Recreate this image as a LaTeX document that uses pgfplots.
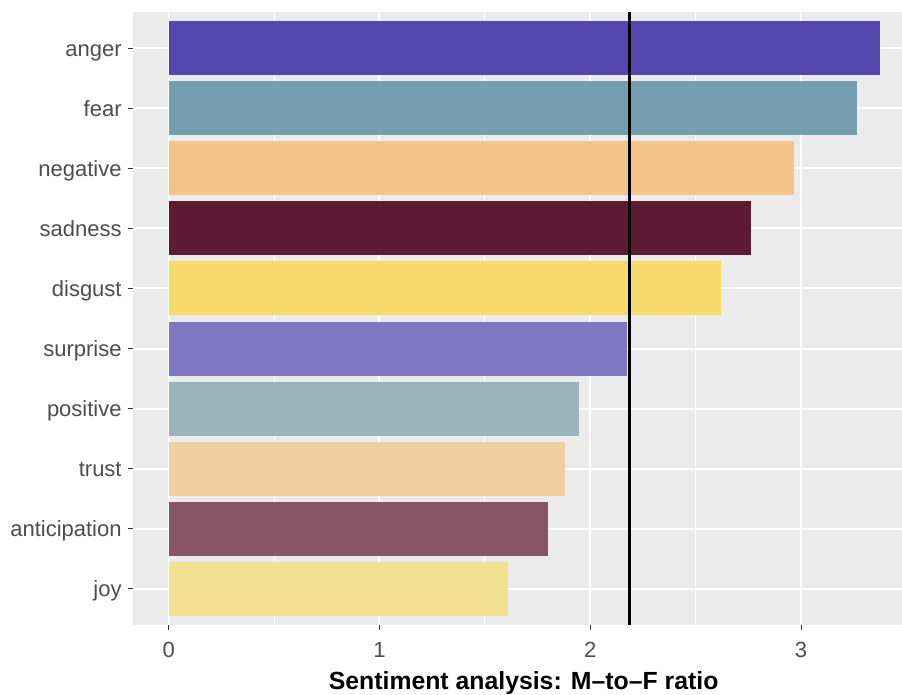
\documentclass[border=0pt]{standalone}
\usepackage{fontspec}
\setmainfont{Liberation Sans}
\usepackage{pgfplots}
\pgfplotsset{compat=1.18}
\definecolor{cAnger}{HTML}{5546B0}
\definecolor{cFear}{HTML}{749FAF}
\definecolor{cNegative}{HTML}{F2C487}
\definecolor{cSadness}{HTML}{5E1A33}
\definecolor{cDisgust}{HTML}{F6DB6C}
\definecolor{cSurprise}{HTML}{8077C2}
\definecolor{cPositive}{HTML}{99B3BF}
\definecolor{cTrust}{HTML}{EFCFA0}
\definecolor{cAnticipation}{HTML}{875666}
\definecolor{cJoy}{HTML}{F3E090}
\definecolor{panel}{HTML}{EBEBEB}
\definecolor{textgray}{HTML}{4D4D4D}
\definecolor{tickgray}{HTML}{333333}
\begin{document}
\begin{tikzpicture}
\useasboundingbox (-66.5pt,-35pt) rectangle (384.5pt,312.5pt);
\begin{axis}[at={(0,0)}, anchor=south west, scale only axis,
  width=384.5pt, height=306.5pt,
  xmin=-0.169, xmax=3.479, ymin=0.4, ymax=10.6,
  axis background/.style={fill=panel},
  axis line style={draw=none},
  xtick pos=bottom, ytick pos=left,
  xtick={0,1,2,3}, minor xtick={0.5,1.5,2.5,3.5},
  ytick={1,2,3,4,5,6,7,8,9,10},
  yticklabels={joy,anticipation,trust,positive,surprise,disgust,sadness,negative,fear,anger},
  xmajorgrids, xminorgrids, ymajorgrids,
  major grid style={white, line width=1pt},
  minor grid style={white, line width=0.5pt},
  tick align=outside, major tick length=2.5pt, minor tick length=0pt,
  major tick style={color=tickgray, line width=0.5pt},
  tick label style={font=\fontsize{11}{13}\selectfont, text=textgray},
  /pgf/number format/assume math mode=true,
  xticklabel style={anchor=north, inner sep=0pt, yshift=-6pt},
  yticklabel style={anchor=base east, inner sep=0pt, xshift=-3pt, yshift=-4pt},
  xlabel={Sentiment analysis: M\textendash to\textendash F ratio},
  xlabel style={at={(axis description cs:0.508,0)}, anchor=base, yshift=-32.2pt,
    font=\fontsize{12.4}{14}\selectfont\bfseries, text=black, inner sep=0pt},
  bar shift=0pt, bar width=27pt,
]
\addplot[xbar, fill=cAnger, draw=none] coordinates {(3.374,10)};
\addplot[xbar, fill=cFear, draw=none] coordinates {(3.266,9)};
\addplot[xbar, fill=cNegative, draw=none] coordinates {(2.967,8)};
\addplot[xbar, fill=cSadness, draw=none] coordinates {(2.763,7)};
\addplot[xbar, fill=cDisgust, draw=none] coordinates {(2.620,6)};
\addplot[xbar, fill=cSurprise, draw=none] coordinates {(2.174,5)};
\addplot[xbar, fill=cPositive, draw=none] coordinates {(1.946,4)};
\addplot[xbar, fill=cTrust, draw=none] coordinates {(1.880,3)};
\addplot[xbar, fill=cAnticipation, draw=none] coordinates {(1.799,2)};
\addplot[xbar, fill=cJoy, draw=none] coordinates {(1.609,1)};
\addplot[black, line width=1.5pt] coordinates {(2.184,0.4) (2.184,10.6)};
\end{axis}
\end{tikzpicture}
\end{document}
